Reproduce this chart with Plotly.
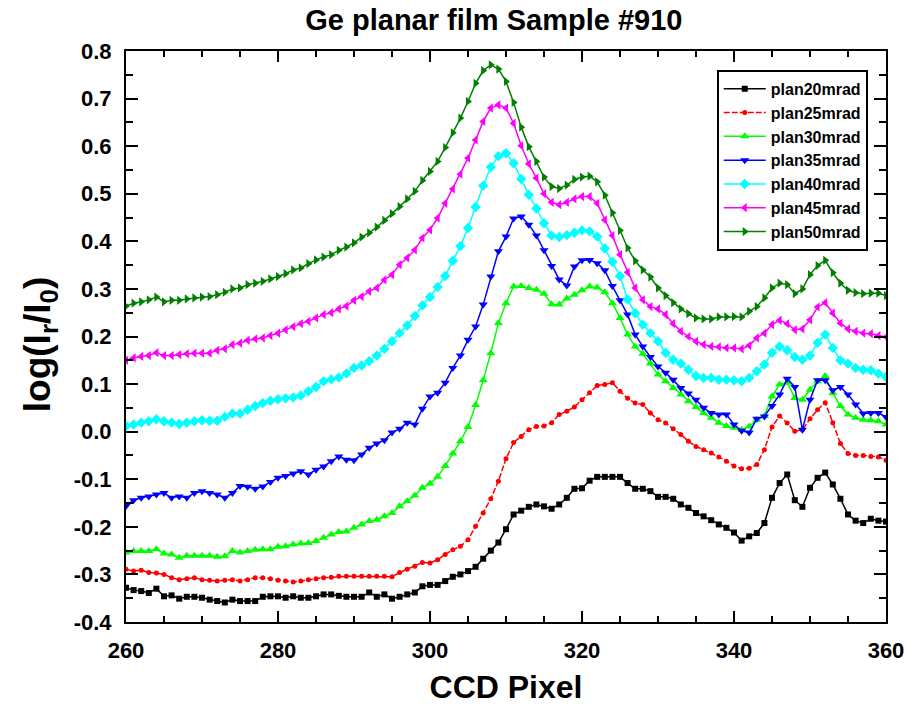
import plotly.graph_objects as go

x_pixel = list(range(260, 361))

plan20mrad = [
    -0.328, -0.333, -0.335, -0.339, -0.330, -0.346, -0.344, -0.351, -0.347, -0.347,
    -0.349, -0.353, -0.356, -0.359, -0.353, -0.356, -0.356, -0.356, -0.347, -0.346,
    -0.346, -0.349, -0.346, -0.349, -0.349, -0.346, -0.342, -0.342, -0.345, -0.347,
    -0.347, -0.347, -0.338, -0.347, -0.342, -0.351, -0.347, -0.342, -0.338, -0.325,
    -0.322, -0.322, -0.314, -0.305, -0.300, -0.293, -0.284, -0.267, -0.250, -0.233,
    -0.205, -0.174, -0.166, -0.158, -0.153, -0.157, -0.162, -0.153, -0.139, -0.120,
    -0.119, -0.103, -0.095, -0.095, -0.095, -0.095, -0.108, -0.120, -0.120, -0.125,
    -0.137, -0.137, -0.141, -0.153, -0.160, -0.171, -0.178, -0.186, -0.195, -0.202,
    -0.212, -0.229, -0.220, -0.213, -0.192, -0.139, -0.108, -0.090, -0.144, -0.158,
    -0.118, -0.097, -0.086, -0.111, -0.141, -0.174, -0.187, -0.192, -0.183, -0.187,
    -0.189]

plan25mrad = [
    -0.289, -0.293, -0.291, -0.296, -0.297, -0.300, -0.307, -0.311, -0.309, -0.307,
    -0.311, -0.312, -0.314, -0.312, -0.311, -0.314, -0.311, -0.307, -0.307, -0.309,
    -0.312, -0.314, -0.316, -0.314, -0.311, -0.309, -0.307, -0.306, -0.304, -0.304,
    -0.304, -0.304, -0.304, -0.304, -0.304, -0.305, -0.296, -0.289, -0.283, -0.275,
    -0.276, -0.269, -0.258, -0.248, -0.241, -0.227, -0.199, -0.171, -0.141, -0.104,
    -0.057, -0.023, -0.010, 0.004, 0.011, 0.012, 0.019, 0.036, 0.043, 0.052,
    0.067, 0.082, 0.097, 0.099, 0.103, 0.085, 0.070, 0.060, 0.057, 0.039,
    0.025, 0.018, 0.006, -0.006, -0.020, -0.031, -0.038, -0.045, -0.053, -0.062,
    -0.072, -0.078, -0.077, -0.069, -0.038, 0.010, 0.033, 0.018, 0.001, 0.004,
    0.027, 0.046, 0.061, 0.019, -0.025, -0.046, -0.050, -0.050, -0.052, -0.053,
    -0.060]

plan30mrad = [
    -0.254, -0.251, -0.251, -0.251, -0.247, -0.256, -0.258, -0.265, -0.261, -0.261,
    -0.261, -0.261, -0.263, -0.262, -0.251, -0.254, -0.251, -0.248, -0.247, -0.247,
    -0.242, -0.241, -0.237, -0.235, -0.234, -0.230, -0.223, -0.216, -0.211, -0.210,
    -0.202, -0.195, -0.188, -0.185, -0.178, -0.171, -0.157, -0.146, -0.134, -0.118,
    -0.109, -0.095, -0.072, -0.046, -0.020, 0.010, 0.056, 0.108, 0.165, 0.228,
    0.270, 0.305, 0.306, 0.302, 0.298, 0.290, 0.268, 0.267, 0.280, 0.288,
    0.297, 0.305, 0.303, 0.293, 0.270, 0.239, 0.204, 0.179, 0.164, 0.143,
    0.120, 0.106, 0.092, 0.078, 0.064, 0.052, 0.039, 0.029, 0.019, 0.012,
    0.008, 0.004, 0.011, 0.025, 0.033, 0.074, 0.099, 0.103, 0.071, 0.067,
    0.088, 0.106, 0.117, 0.081, 0.054, 0.036, 0.029, 0.025, 0.024, 0.022,
    0.015]

plan35mrad = [
    -0.156, -0.144, -0.139, -0.136, -0.132, -0.129, -0.139, -0.136, -0.139, -0.129,
    -0.125, -0.129, -0.132, -0.139, -0.129, -0.114, -0.116, -0.120, -0.115, -0.106,
    -0.097, -0.093, -0.088, -0.083, -0.090, -0.080, -0.073, -0.062, -0.052, -0.059,
    -0.060, -0.048, -0.034, -0.025, -0.018, -0.002, 0.006, 0.019, 0.015, 0.048,
    0.074, 0.082, 0.103, 0.134, 0.160, 0.193, 0.221, 0.267, 0.326, 0.379,
    0.410, 0.448, 0.452, 0.435, 0.412, 0.381, 0.348, 0.320, 0.307, 0.347,
    0.360, 0.361, 0.354, 0.339, 0.306, 0.276, 0.246, 0.204, 0.179, 0.157,
    0.137, 0.124, 0.109, 0.092, 0.080, 0.067, 0.050, 0.039, 0.036, 0.036,
    0.015, 0.002, -0.002, 0.027, 0.032, 0.054, 0.078, 0.111, 0.094, 0.004,
    0.067, 0.108, 0.108, 0.087, 0.094, 0.078, 0.057, 0.038, 0.039, 0.039,
    0.031]

plan40mrad = [
    0.012, 0.015, 0.019, 0.022, 0.026, 0.022, 0.019, 0.016, 0.019, 0.022,
    0.024, 0.023, 0.023, 0.031, 0.038, 0.038, 0.046, 0.054, 0.060, 0.065,
    0.068, 0.070, 0.072, 0.076, 0.085, 0.094, 0.106, 0.110, 0.114, 0.122,
    0.134, 0.139, 0.148, 0.160, 0.174, 0.190, 0.207, 0.223, 0.243, 0.265,
    0.283, 0.304, 0.327, 0.359, 0.390, 0.428, 0.472, 0.517, 0.556, 0.579,
    0.585, 0.564, 0.531, 0.498, 0.469, 0.438, 0.412, 0.409, 0.413, 0.418,
    0.423, 0.421, 0.410, 0.385, 0.357, 0.327, 0.278, 0.249, 0.225, 0.207,
    0.190, 0.166, 0.151, 0.143, 0.130, 0.117, 0.113, 0.113, 0.109, 0.109,
    0.108, 0.106, 0.113, 0.127, 0.141, 0.166, 0.179, 0.171, 0.157, 0.151,
    0.160, 0.187, 0.204, 0.176, 0.150, 0.143, 0.134, 0.130, 0.129, 0.122,
    0.115]

plan45mrad = [
    0.150, 0.155, 0.158, 0.160, 0.166, 0.160, 0.160, 0.162, 0.164, 0.165,
    0.165, 0.165, 0.171, 0.174, 0.183, 0.186, 0.192, 0.195, 0.197, 0.202,
    0.207, 0.214, 0.221, 0.227, 0.232, 0.239, 0.246, 0.250, 0.258, 0.264,
    0.276, 0.284, 0.295, 0.302, 0.319, 0.330, 0.351, 0.365, 0.382, 0.407,
    0.424, 0.449, 0.480, 0.510, 0.541, 0.575, 0.613, 0.652, 0.680, 0.687,
    0.680, 0.648, 0.601, 0.563, 0.533, 0.500, 0.482, 0.477, 0.482, 0.489,
    0.494, 0.494, 0.480, 0.445, 0.412, 0.372, 0.335, 0.302, 0.277, 0.263,
    0.258, 0.246, 0.227, 0.211, 0.200, 0.190, 0.183, 0.179, 0.178, 0.176,
    0.176, 0.174, 0.181, 0.197, 0.207, 0.225, 0.234, 0.227, 0.214, 0.216,
    0.235, 0.262, 0.271, 0.249, 0.228, 0.216, 0.211, 0.207, 0.206, 0.202,
    0.199]

plan50mrad = [
    0.264, 0.270, 0.273, 0.277, 0.283, 0.273, 0.276, 0.276, 0.279, 0.281,
    0.283, 0.284, 0.288, 0.293, 0.300, 0.302, 0.309, 0.312, 0.316, 0.321,
    0.326, 0.332, 0.340, 0.344, 0.353, 0.361, 0.367, 0.372, 0.381, 0.388,
    0.397, 0.409, 0.418, 0.430, 0.444, 0.458, 0.473, 0.489, 0.505, 0.528,
    0.547, 0.568, 0.597, 0.628, 0.659, 0.694, 0.732, 0.759, 0.771, 0.762,
    0.736, 0.692, 0.640, 0.599, 0.568, 0.535, 0.515, 0.511, 0.518, 0.530,
    0.535, 0.537, 0.525, 0.497, 0.460, 0.423, 0.386, 0.359, 0.340, 0.325,
    0.302, 0.286, 0.271, 0.258, 0.248, 0.239, 0.237, 0.237, 0.241, 0.241,
    0.242, 0.241, 0.253, 0.263, 0.281, 0.302, 0.312, 0.309, 0.290, 0.300,
    0.330, 0.349, 0.360, 0.334, 0.312, 0.297, 0.292, 0.290, 0.291, 0.291,
    0.286]

series_names = ["plan20mrad", "plan25mrad", "plan30mrad", "plan35mrad",
                "plan40mrad", "plan45mrad", "plan50mrad"]
series_values = [plan20mrad, plan25mrad, plan30mrad, plan35mrad,
                 plan40mrad, plan45mrad, plan50mrad]
series_colors = ["#000000", "#FF0000", "#00FF00", "#0000FF",
                 "#00FFFF", "#FF00FF", "#008000"]
series_symbols = ["square", "circle", "triangle-up", "triangle-down",
                  "diamond", "triangle-left", "triangle-right"]
series_sizes = [6, 5, 8, 8, 8, 8, 8]
series_dash = ["solid", "6px,2px", "solid", "solid", "solid", "solid", "solid"]

y_tickvals = [-0.4, -0.3, -0.2, -0.1, 0.0, 0.1, 0.2, 0.3, 0.4, 0.5, 0.6, 0.7, 0.8]
y_ticktext = ["-0.4", "-0.3", "-0.2", "-0.1", "0.0", "0.1", "0.2", "0.3",
              "0.4", "0.5", "0.6", "0.7", "0.8"]
x_tickvals = [260, 280, 300, 320, 340, 360]
x_ticktext = ["260", "280", "300", "320", "340", "360"]

FONT = "Liberation Sans, Arial, sans-serif"

fig = go.Figure()
for name, vals, col, sym, sz, dsh in zip(series_names, series_values, series_colors,
                                          series_symbols, series_sizes, series_dash):
    fig.add_trace(go.Scatter(
        x=x_pixel, y=vals, name=name, mode="lines+markers",
        line=dict(color=col, width=1.5, dash=dsh),
        marker=dict(symbol=sym, size=sz, color=col, line=dict(width=0)),
    ))

axis_common = dict(
    showgrid=False, zeroline=False, showline=True, linecolor="black",
    linewidth=2, mirror="allticks", ticks="inside", tickwidth=2,
    tickcolor="black", tickmode="array", automargin=False,
    tickfont=dict(family=FONT, size=22, color="black", weight="bold"),
)

fig.update_xaxes(
    **axis_common, range=[260, 360], tickvals=x_tickvals, ticktext=x_ticktext,
    ticklen=11, ticklabelstandoff=8,
    minor=dict(ticks="inside", dtick=5, tick0=260, ticklen=6, tickwidth=2,
               tickcolor="black", showgrid=False),
    title=dict(text="CCD Pixel", standoff=20,
               font=dict(family=FONT, size=32, color="black", weight="bold")),
)
fig.update_yaxes(
    **axis_common, range=[-0.4, 0.8], tickvals=y_tickvals, ticktext=y_ticktext,
    ticklen=12, ticklabelstandoff=8,
    minor=dict(ticks="inside", dtick=0.05, tick0=-0.4, ticklen=7, tickwidth=2,
               tickcolor="black", showgrid=False),
)

# y-axis title as a rotated annotation for precise placement
fig.add_annotation(
    text="log(I<sub>r</sub>/I<sub>0</sub>)",
    xref="paper", yref="paper", x=-0.113, y=0.485,
    xanchor="center", yanchor="middle", textangle=-90, showarrow=False,
    font=dict(family=FONT, size=37, color="black", weight="bold"),
)

fig.update_layout(
    width=908, height=705,
    margin=dict(l=126, r=22, t=51, b=83, autoexpand=False),
    paper_bgcolor="white", plot_bgcolor="white",
    title=dict(text="Ge planar film Sample #910", x=0.484, xanchor="center",
               xref="paper", y=0.972, yanchor="middle",
               font=dict(family=FONT, size=29, color="black", weight="bold")),
    legend=dict(
        x=0.976, xanchor="right", y=0.967, yanchor="top",
        bordercolor="black", borderwidth=2, bgcolor="white",
        font=dict(family=FONT, size=16, color="black", weight="bold"),
        itemwidth=42,
    ),
    showlegend=True,
)

fig.write_html("out.html")
